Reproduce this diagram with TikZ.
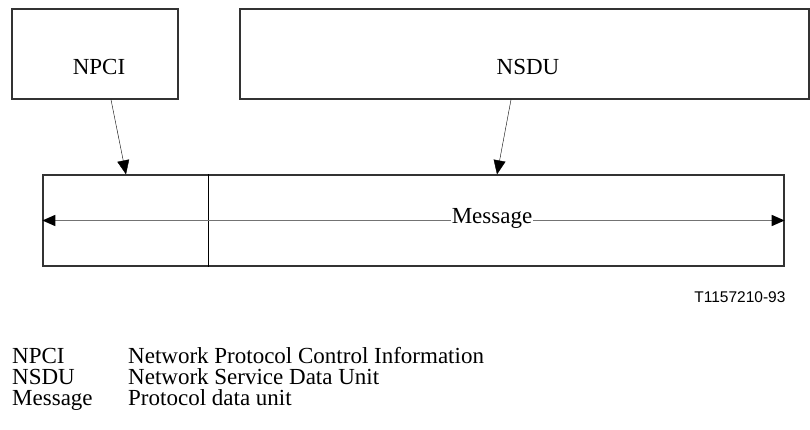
\documentclass[tikz,border=0pt]{standalone}
\usepackage{fontspec}
\setmainfont{Liberation Serif}
\newfontfamily\reffont{Liberation Sans}
\usetikzlibrary{arrows.meta}

\begin{document}
\begin{tikzpicture}[x=1pt,y=-1pt,font=\fontsize{23pt}{21pt}\selectfont,
  unitbox/.style={draw=black!80, line width=1.3pt, minimum height=90pt, inner sep=0pt},
  keyline/.style={anchor=base west, inner sep=0pt, text height=15pt, text depth=4.5pt},
  tip/.style={-{Triangle[width=12pt,length=14pt]}}]
\useasboundingbox (0,0) rectangle (810,430);

\node[unitbox, minimum width=166pt] (npci) at (95,54) {};
\node[unitbox, minimum width=569pt] (nsdu) at (524.5,54) {};
\node[anchor=base] (npci label) at (99,75) {NPCI};
\node[anchor=base] (nsdu label) at (528,75) {NSDU};

\node[unitbox, minimum width=741pt, minimum height=91pt] (pdu) at (413.5,220.5) {};
\draw [line width=1.4pt] ([xshift=166pt]pdu.north west) -- ([xshift=166pt]pdu.south west);

\draw [tip] ([xshift=16pt]npci.south) -- ([xshift=-287.5pt]pdu.north);
\draw [tip] ([xshift=-13.5pt]nsdu.south) -- ([xshift=83.5pt]pdu.north);

\draw [black!55, line width=1.5pt, {Triangle[width=11pt,length=13pt,color=black]}-{Triangle[width=11pt,length=13pt,color=black]}] (pdu.west) -- (pdu.east);
\node[fill=white, inner sep=1pt, anchor=base] (msg) at (492,223) {Message};

\node[font=\reffont\fontsize{15.5pt}{18pt}\selectfont, anchor=base east] (ref) at (789,302) {T1157210-93};

% legend
\node[keyline] (k1) at (12,363) {NPCI};
\node[keyline] (v1) at (128,363) {Network Protocol Control Information};
\node[keyline] (k2) at (12,384) {NSDU};
\node[keyline] (v2) at (128,384) {Network Service Data Unit};
\node[keyline] (k3) at (12,405) {Message};
\node[keyline] (v3) at (128,405) {Protocol data unit};
\end{tikzpicture}
\end{document}
